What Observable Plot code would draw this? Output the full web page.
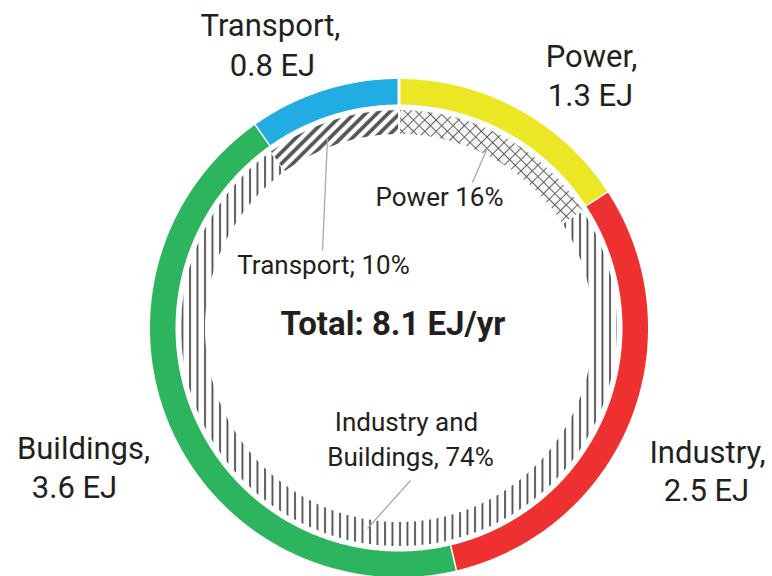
<!DOCTYPE html>
<html>
<head>
<meta charset="utf-8">
<script src="https://cdn.jsdelivr.net/npm/d3@7"></script>
<script src="https://cdn.jsdelivr.net/npm/@observablehq/plot@0.6"></script>
<style>
  html, body { margin: 0; padding: 0; background: #fff; }
</style>
</head>
<body>
<div id="chart"></div>
<script>
// ---- data ----
const sectors = ["Power", "Industry", "Buildings", "Transport"];
const demandEJ = [1.3, 2.5, 3.6, 0.8];
const shareGroups = ["Power", "Industry and Buildings", "Transport"];
const sharePct = [16, 74, 10];
const totalLabel = "Total: 8.1 EJ/yr";

// ---- styles / layout ----
const W = 772, H = 576;
const CX = 398.5, CY = 327.5;
const R_OUT = [222, 250.5];
const R_IN = [193, 219];
const sectorColors = {Power: "#ebe725", Industry: "#ee3130", Buildings: "#2db45f", Transport: "#21ade3"};
const shareFills = {"Power": "url(#pCross)", "Industry and Buildings": "url(#pVert)", "Transport": "url(#pDiag)"};
const ink = "#231f20";

// label positions (center x, baseline y) per text line
const sectorLabelPos = {
  Power: [[591, 66], [590, 105]],
  Industry: [[707, 462], [706, 500]],
  Buildings: [[83, 458], [74, 497]],
  Transport: [[270, 35], [272, 75]]
};
const shareLabelPos = {
  "Power": [[439, 205]],
  "Transport": [[323, 273]],
  "Industry and Buildings": [[406, 430], [410, 465]]
};
const leaderPos = {
  "Power": [487, 147, 472, 182],
  "Transport": [327, 138, 322, 250],
  "Industry and Buildings": [410, 480, 367, 528]
};

// ---- geometry from data ----
function ring(keys, values, r0, r1, fillOf) {
  const arcs = d3.pie().sort(null).value((d, i) => values[i])(keys);
  const pts = [];
  arcs.forEach((a, k) => {
    const key = keys[k];
    const n = Math.max(2, Math.ceil((a.endAngle - a.startAngle) / (Math.PI / 360)));
    for (let i = 0; i <= n; i++) {
      const t = a.startAngle + (a.endAngle - a.startAngle) * i / n;
      pts.push({key, fill: fillOf(key), x: CX + r1 * Math.sin(t), y: CY - r1 * Math.cos(t)});
    }
    for (let i = n; i >= 0; i--) {
      const t = a.startAngle + (a.endAngle - a.startAngle) * i / n;
      pts.push({key, fill: fillOf(key), x: CX + r0 * Math.sin(t), y: CY - r0 * Math.cos(t)});
    }
  });
  return pts;
}

const outerPts = ring(sectors, demandEJ, R_OUT[0], R_OUT[1], k => sectorColors[k]);
const innerPts = ring(shareGroups, sharePct, R_IN[0], R_IN[1], k => shareFills[k]);

const sectorText = [];
sectors.forEach((s, i) => {
  const lines = [`${s},`, `${demandEJ[i]} EJ`];
  lines.forEach((t, j) => sectorText.push({text: t, x: sectorLabelPos[s][j][0], y: sectorLabelPos[s][j][1]}));
});

const shareText = [];
shareGroups.forEach((g, i) => {
  const lbl = g === "Power" ? `Power ${sharePct[i]}%`
            : g === "Transport" ? `Transport; ${sharePct[i]}%`
            : `Industry and\nBuildings, ${sharePct[i]}%`;
  lbl.split("\n").forEach((t, j) => shareText.push({text: t, x: shareLabelPos[g][j][0], y: shareLabelPos[g][j][1]}));
});

const leaders = shareGroups.map(g => ({x1: leaderPos[g][0], y1: leaderPos[g][1], x2: leaderPos[g][2], y2: leaderPos[g][3]}));

const chart = Plot.plot({
  width: W,
  height: H,
  margin: 0,
  x: {domain: [0, W], range: [0, W], axis: null},
  y: {domain: [0, H], range: [0, H], axis: null},
  color: {type: "identity"},
  style: {fontFamily: "Roboto, 'Open Sans', sans-serif", background: "#fff", overflow: "visible"},
  marks: [
    Plot.line(outerPts, {x: "x", y: "y", z: "key", fill: "fill", stroke: "#fff", strokeWidth: 3, strokeLinejoin: "miter"}),
    Plot.line(innerPts, {x: "x", y: "y", z: "key", fill: "fill", stroke: "#fff", strokeWidth: 2, strokeLinejoin: "miter"}),
    Plot.link(leaders, {x1: "x1", y1: "y1", x2: "x2", y2: "y2", stroke: "#a9a9a9", strokeWidth: 1.3}),
    Plot.text(sectorText, {x: "x", y: "y", text: "text", fontSize: 31, fill: ink, lineAnchor: "bottom", textAnchor: "middle"}),
    Plot.text(shareText, {x: "x", y: "y", text: "text", fontSize: 26, fill: ink, lineAnchor: "bottom", textAnchor: "middle"}),
    Plot.text([totalLabel], {x: () => CX - 6, y: () => 334, text: d => d, fontSize: 33, fontWeight: "bold", fill: ink, lineAnchor: "bottom", textAnchor: "middle"})
  ]
});

// patterns
const defs = `
<defs>
  <pattern id="pCross" patternUnits="userSpaceOnUse" width="8" height="8" patternTransform="rotate(45)">
    <rect width="8" height="8" fill="#f6f6f6"></rect>
    <line x1="0" y1="0.5" x2="8" y2="0.5" stroke="#555" stroke-width="0.9"></line>
    <line x1="0.5" y1="0" x2="0.5" y2="8" stroke="#555" stroke-width="0.9"></line>
  </pattern>
  <pattern id="pVert" patternUnits="userSpaceOnUse" width="7.5" height="10">
    <rect width="7.5" height="10" fill="#fff"></rect>
    <line x1="2" y1="0" x2="2" y2="10" stroke="#4a4a4a" stroke-width="1.8"></line>
  </pattern>
  <pattern id="pDiag" patternUnits="userSpaceOnUse" width="8" height="8" patternTransform="rotate(45)">
    <rect width="8" height="8" fill="#fff"></rect>
    <line x1="2" y1="0" x2="2" y2="8" stroke="#505050" stroke-width="3.6"></line>
  </pattern>
</defs>`;
chart.insertAdjacentHTML("afterbegin", defs);
document.getElementById("chart").appendChild(chart);
</script>
</body>
</html>
